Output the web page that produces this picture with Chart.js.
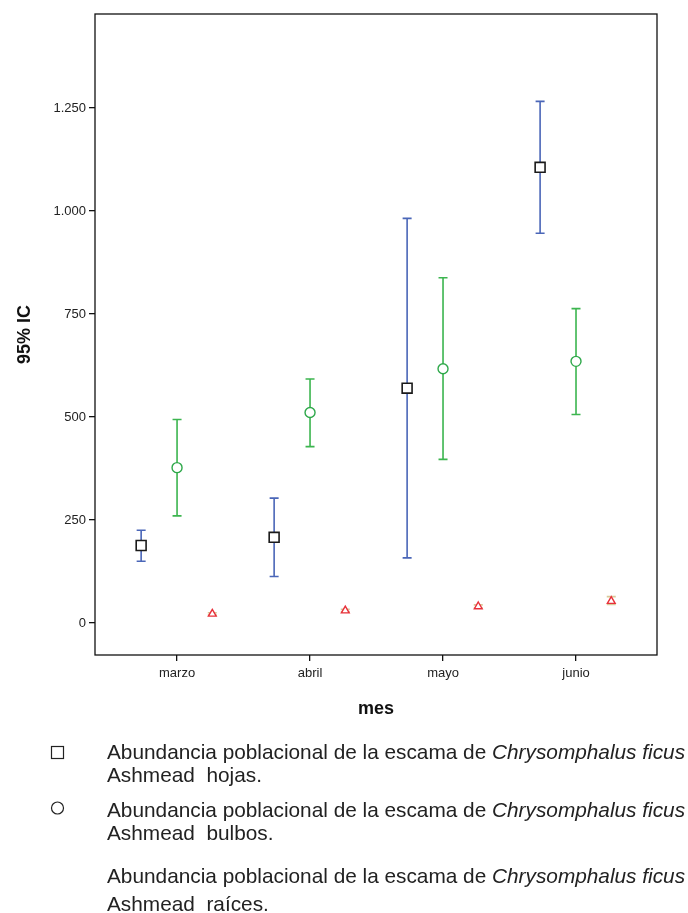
<!DOCTYPE html>
<html>
<head>
<meta charset="utf-8">
<script src="https://cdn.jsdelivr.net/npm/chart.js@4"></script>
<style>
  body { margin: 0; background: #fff; }
</style>
</head>
<body>
<canvas id="chart" width="688" height="913"></canvas>
<script>
const months = ['marzo', 'abril', 'mayo', 'junio'];
const yTicks = [0, 250, 500, 750, 1000, 1250];

// hojas (square)
const hojasMean = [188, 208, 570, 1106];
const hojasLow = [150, 113, 158, 946];
const hojasHigh = [225, 303, 982, 1266];

// bulbos (circle)
const bulbosMean = [377, 511, 617, 635];
const bulbosLow = [260, 428, 397, 506];
const bulbosHigh = [494, 592, 838, 763];

// raices (triangle)
const raicesMean = [22, 30, 40, 53];
const raicesLow = [19, 27, 36, 45];
const raicesHigh = [25, 33, 44, 64];

// legend text under the chart
const legendHead = 'Abundancia poblacional de la escama de ';
const legendSpecies = 'Chrysomphalus ficus';
const legendParts = ['hojas.', 'bulbos.', 'raíces.'];

const FONT = "'Liberation Sans', Arial, sans-serif";

const toPoints = (mean, low, high, offset) => mean.map((v, i) => ({
    x: i + 1 + offset, y: v, low: low[i], high: high[i]
}));

const errorBars = {
    id: 'errorBars',
    // bars first, markers sit on top
    beforeDatasetsDraw(chart) {
        const ctx = chart.ctx;
        const xs = chart.scales.x, ys = chart.scales.y;
        chart.data.datasets.forEach(ds => {
            ctx.save();
            ctx.strokeStyle = ds.barColor;
            ctx.lineWidth = 1.6;
            ds.data.forEach(p => {
                const px = xs.getPixelForValue(p.x);
                const top = ys.getPixelForValue(p.high);
                const bot = ys.getPixelForValue(p.low);
                ctx.beginPath();
                ctx.moveTo(px, top); ctx.lineTo(px, bot);
                ctx.moveTo(px - 4.5, top); ctx.lineTo(px + 4.5, top);
                ctx.moveTo(px - 4.5, bot); ctx.lineTo(px + 4.5, bot);
                ctx.stroke();
            });
            ctx.restore();
        });
    },
    afterDraw(chart) {
        const { ctx, chartArea: a } = chart;
        ctx.save();
        ctx.strokeStyle = '#111';
        ctx.lineWidth = 1.3;
        ctx.strokeRect(a.left, a.top, a.right - a.left, a.bottom - a.top);

        // legend block (baselines)
        const rows = [[759, 782], [817, 840], [883, 911]];
        const fs = 20.8;
        ctx.fillStyle = '#222';
        ctx.textBaseline = 'alphabetic';
        ctx.textAlign = 'left';
        rows.forEach((r, i) => {
            ctx.font = fs + 'px ' + FONT;
            ctx.fillText(legendHead, 107, r[0]);
            const w = ctx.measureText(legendHead).width;
            ctx.font = 'italic ' + fs + 'px ' + FONT;
            ctx.fillText(legendSpecies, 107 + w, r[0]);
            ctx.font = fs + 'px ' + FONT;
            ctx.fillText('Ashmead  ' + legendParts[i], 107, r[1]);
        });
        // markers (raíces has none in the original)
        ctx.strokeStyle = '#222';
        ctx.lineWidth = 1.2;
        ctx.strokeRect(51.5, 746.5, 12, 12);
        ctx.beginPath();
        ctx.arc(57.5, 808, 6, 0, Math.PI * 2);
        ctx.stroke();
        ctx.restore();
    }
};

new Chart(document.getElementById('chart').getContext('2d'), {
    type: 'scatter',
    data: {
        datasets: [{
            label: 'hojas',
            data: toPoints(hojasMean, hojasLow, hojasHigh, -0.27),
            pointStyle: 'rect',
            pointRadius: 7,
            pointBorderWidth: 1.6,
            pointBorderColor: '#1a1a1a',
            pointBackgroundColor: '#fff',
            barColor: '#4a66b8',
        }, {
            label: 'bulbos',
            data: toPoints(bulbosMean, bulbosLow, bulbosHigh, 0),
            pointStyle: 'circle',
            pointRadius: 5,
            pointBorderWidth: 1.4,
            pointBorderColor: '#2ea84a',
            pointBackgroundColor: '#fff',
            barColor: '#3cb54f',
        }, {
            label: 'raíces',
            data: toPoints(raicesMean, raicesLow, raicesHigh, 0.265),
            pointStyle: 'triangle',
            pointRadius: 4.5,
            pointBorderWidth: 1.4,
            pointBorderColor: '#e8303a',
            pointBackgroundColor: '#fff',
            barColor: '#d9c99a',
        }]
    },
    options: {
        responsive: false,
        animation: false,
        layout: { padding: { top: 14, right: 31, left: 0, bottom: 183 } },
        plugins: {
            legend: { display: false },
            tooltip: { enabled: false }
        },
        scales: {
            x: {
                type: 'linear',
                min: 0.383,
                max: 4.609,
                afterBuildTicks: s => { s.ticks = months.map((m, i) => ({ value: i + 1 })); },
                afterFit: s => { s.height = 75; },
                grid: { drawOnChartArea: false, tickLength: 6, color: '#111', lineWidth: 1.3 },
                border: { display: false },
                ticks: {
                    color: '#222',
                    padding: 5,
                    font: { family: FONT, size: 13 },
                    callback: v => months[Math.round(v) - 1]
                },
                title: {
                    display: true,
                    text: 'mes',
                    color: '#111',
                    padding: { top: 4, bottom: 10 },
                    font: { family: FONT, size: 18, weight: 'bold' }
                }
            },
            y: {
                min: -77.7,
                max: 1478,
                afterBuildTicks: s => { s.ticks = yTicks.map(v => ({ value: v })); },
                afterFit: s => { s.width = 95; },
                grid: { drawOnChartArea: false, tickLength: 6, color: '#111', lineWidth: 1.3 },
                border: { display: false },
                ticks: {
                    color: '#222',
                    padding: 3,
                    font: { family: FONT, size: 13 },
                    callback: v => v.toLocaleString('de-DE')
                },
                title: {
                    display: true,
                    text: '95% IC',
                    color: '#111',
                    padding: { top: 14, bottom: 0 },
                    font: { family: FONT, size: 18, weight: 'bold' }
                }
            }
        }
    },
    plugins: [errorBars]
});
</script>
</body>
</html>
